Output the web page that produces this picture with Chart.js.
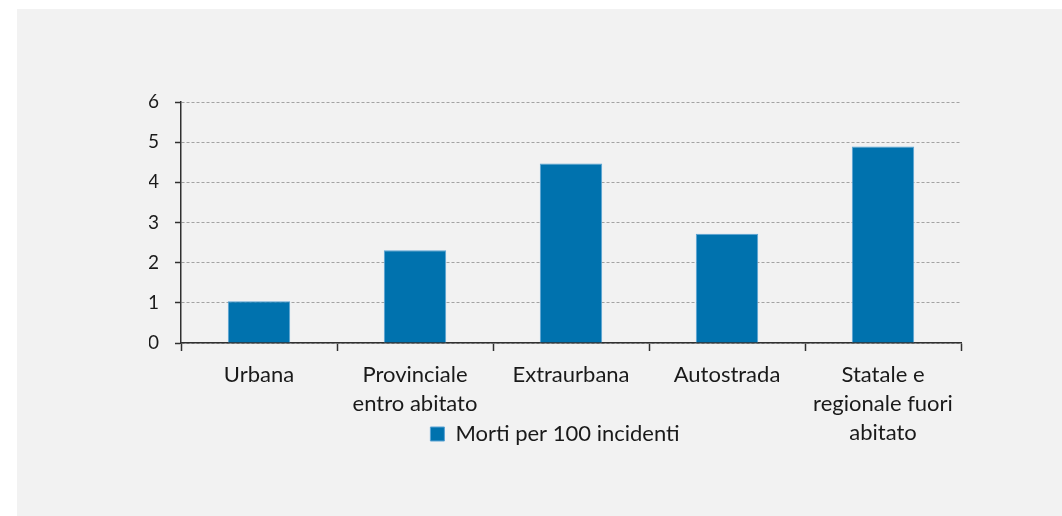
<!DOCTYPE html>
<html>
<head>
<meta charset="utf-8">
<script src="https://cdn.jsdelivr.net/npm/chart.js@4.4.0/dist/chart.umd.min.js"></script>
<style>
  html, body { margin: 0; padding: 0; background: #ffffff; }
  #wrap { position: absolute; left: 17px; top: 9px; width: 1045px; height: 507px; background: #f2f2f2; }
  canvas { display: block; }
</style>
</head>
<body>
<div id="wrap"><canvas id="c" width="1045" height="507"></canvas></div>
<script>
const categories = [
  ['Urbana'],
  ['Provinciale', 'entro abitato'],
  ['Extraurbana'],
  ['Autostrada'],
  ['Statale e', 'regionale fuori', 'abitato']
];
const seriesName = 'Morti per 100 incidenti';
const deaths = [1.04, 2.31, 4.47, 2.72, 4.89];
const yTicks = [0, 1, 2, 3, 4, 5, 6];

const FONT = 'Lato, "Open Sans", sans-serif';
const TEXT = '#1a1a1a';
const AXIS = '#303030';

// let the category labels run below the (shortened) x-axis box, over the legend area
const unclipLabels = {
  id: 'unclipLabels',
  beforeDraw(chart) { chart.scales.x.bottom = chart.height; }
};

new Chart(document.getElementById('c'), {
  type: 'bar',
  data: {
    labels: categories,
    datasets: [{
      label: seriesName,
      data: deaths,
      backgroundColor: '#0072ae',
      borderColor: '#5aa3d4',
      borderWidth: 1,
      borderSkipped: 'bottom',
      categoryPercentage: 1,
      barPercentage: 0.4
    }]
  },
  plugins: [unclipLabels],
  options: {
    responsive: false,
    animation: false,
    events: [],
    layout: { padding: { left: 132, right: 101, top: 93, bottom: 61 } },
    plugins: {
      tooltip: { enabled: false },
      legend: {
        position: 'bottom',
        labels: {
          boxWidth: 14,
          boxHeight: 14,
          padding: 10,
          color: TEXT,
          font: { family: FONT, size: 22 }
        }
      }
    },
    scales: {
      x: {
        afterFit: s => { s.height = 70; },
        border: { display: true, color: AXIS, width: 1.5 },
        grid: { drawOnChartArea: false, drawTicks: true, tickLength: 8, tickColor: AXIS, tickWidth: 1.5 },
        ticks: {
          color: TEXT,
          font: { family: FONT, size: 22, lineHeight: 1.3 },
          padding: 10,
          autoSkip: false,
          maxRotation: 0,
          minRotation: 0
        }
      },
      y: {
        min: 0,
        max: 6,
        afterFit: s => { s.width = 32; },
        afterBuildTicks: s => { s.ticks = yTicks.map(v => ({ value: v })); },
        border: { display: true, color: AXIS, width: 1.5, dash: [3, 2] },
        grid: { color: '#a3a3a3', lineWidth: 1, drawTicks: true, tickLength: 6, tickColor: AXIS, tickWidth: 1.5, tickBorderDash: [] },
        ticks: {
          color: TEXT,
          font: { family: FONT, size: 19 },
          padding: 16
        }
      }
    }
  }
});
</script>
</body>
</html>
